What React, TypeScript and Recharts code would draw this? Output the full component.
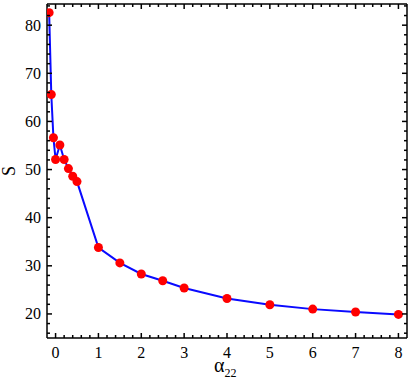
import React from 'react';
import { LineChart, Line, XAxis, YAxis } from 'recharts';

const alpha22 = [-0.15, -0.1, -0.05, 0, 0.1, 0.2, 0.3, 0.4, 0.5, 1, 1.5, 2, 2.5, 3, 4, 5, 6, 7, 8];
const sValues = [82.6, 65.6, 56.6, 52.1, 55.1, 52.1, 50.2, 48.6, 47.5, 33.8, 30.6, 28.3, 26.9, 25.4, 23.2, 21.9, 21.0, 20.4, 19.9];
const xMajorTicks = [0, 1, 2, 3, 4, 5, 6, 7, 8];
const yMajorTicks = [20, 30, 40, 50, 60, 70, 80];
const xDomain: [number, number] = [-0.2, 8.2];
const yDomain: [number, number] = [15, 84.4];

const data = alpha22.map((a, i) => ({ a, s: sValues[i] }));

const range = (lo: number, hi: number, step: number) => {
  const out: number[] = [];
  for (let k = Math.ceil(lo / step + 1e-9); k * step < hi - 1e-9; k++) {
    out.push(Math.round(k * step * 1000) / 1000);
  }
  return out;
};
const xTicks = range(xDomain[0], xDomain[1], 0.2);
const yTicks = range(yDomain[0], yDomain[1], 2);

const isMajor = (v: number, majors: number[]) => majors.some((m) => Math.abs(m - v) < 1e-6);

const FONT = '"Liberation Serif", "Times New Roman", serif';
const MAJ = 5;
const MIN = 3;

const BottomTick = (props: any) => {
  const { x, y, payload } = props;
  const major = isMajor(payload.value, xMajorTicks);
  return (
    <g>
      <line x1={x} y1={y} x2={x} y2={y - (major ? MAJ : MIN)} stroke="#000" strokeWidth={1.5} />
      {major && (
        <text x={x} y={y + 20} textAnchor="middle" fontFamily={FONT} fontSize={16} fill="#000">
          {payload.value}
        </text>
      )}
    </g>
  );
};
const TopTick = (props: any) => {
  const { x, y, payload } = props;
  const major = isMajor(payload.value, xMajorTicks);
  return <line x1={x} y1={y} x2={x} y2={y + (major ? MAJ : MIN)} stroke="#000" strokeWidth={1.5} />;
};
const LeftTick = (props: any) => {
  const { x, y, payload } = props;
  const major = isMajor(payload.value, yMajorTicks);
  return (
    <g>
      <line x1={x} y1={y} x2={x + (major ? MAJ : MIN)} y2={y} stroke="#000" strokeWidth={1.5} />
      {major && (
        <text x={x - 6} y={y + 5.5} textAnchor="end" fontFamily={FONT} fontSize={16} fill="#000">
          {payload.value}
        </text>
      )}
    </g>
  );
};
const RightTick = (props: any) => {
  const { x, y, payload } = props;
  const major = isMajor(payload.value, yMajorTicks);
  return <line x1={x} y1={y} x2={x - (major ? MAJ : MIN)} y2={y} stroke="#000" strokeWidth={1.5} />;
};

const XLabel = (props: any) => {
  const vb = props.viewBox;
  const cx = vb.x + vb.width / 2;
  return (
    <text x={cx - 13} y={vb.y + 34} fontFamily={FONT} fontSize={20} fill="#000">
      α
      <tspan fontSize={12} dy={5}>22</tspan>
    </text>
  );
};
const YLabel = (props: any) => {
  const vb = props.viewBox;
  const cy = vb.y + vb.height / 2;
  const cx = 15;
  return (
    <text x={cx} y={cy} transform={`rotate(-90 ${cx} ${cy})`} textAnchor="middle" fontFamily={FONT} fontSize={18} fill="#000">
      S
    </text>
  );
};

export default function App() {
  return (
    <div style={{ position: 'absolute', left: 0, top: 0, width: 409, height: 381, background: '#fff' }}>
      <LineChart width={409} height={381} data={data} margin={{ top: 0, right: 0, bottom: 0, left: 0 }}>
        <XAxis
          xAxisId="b"
          dataKey="a"
          type="number"
          domain={xDomain}
          ticks={xTicks}
          interval={0}
          orientation="bottom"
          height={43}
          tickSize={0}
          tickMargin={0}
          tickLine={false}
          axisLine={{ stroke: '#000', strokeWidth: 1.5 }}
          tick={<BottomTick />}
          label={<XLabel />}
          allowDataOverflow
        />
        <XAxis
          xAxisId="t"
          dataKey="a"
          type="number"
          domain={xDomain}
          ticks={xTicks}
          interval={0}
          orientation="top"
          height={4}
          tickSize={0}
          tickMargin={0}
          tickLine={false}
          axisLine={{ stroke: '#000', strokeWidth: 1.5 }}
          tick={<TopTick />}
          allowDataOverflow
        />
        <YAxis
          yAxisId="l"
          type="number"
          domain={yDomain}
          ticks={yTicks}
          interval={0}
          orientation="left"
          width={47}
          tickSize={0}
          tickMargin={0}
          tickLine={false}
          axisLine={{ stroke: '#000', strokeWidth: 1.5 }}
          tick={<LeftTick />}
          label={<YLabel />}
          allowDataOverflow
        />
        <YAxis
          yAxisId="r"
          type="number"
          domain={yDomain}
          ticks={yTicks}
          interval={0}
          orientation="right"
          width={2}
          tickSize={0}
          tickMargin={0}
          tickLine={false}
          axisLine={{ stroke: '#000', strokeWidth: 1.5 }}
          tick={<RightTick />}
          allowDataOverflow
        />
        <Line
          xAxisId="b"
          yAxisId="l"
          type="linear"
          dataKey="s"
          stroke="#0a0aff"
          strokeWidth={2}
          dot={{ r: 4.5, fill: '#ff0000', stroke: '#ff0000', strokeWidth: 0 }}
          isAnimationActive={false}
        />
      </LineChart>
    </div>
  );
}
